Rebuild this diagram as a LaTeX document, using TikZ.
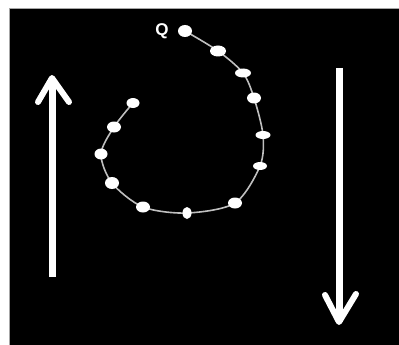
\documentclass[tikz,border=0pt]{standalone}
\usepackage{fontspec}
\setmainfont{Liberation Sans}
\usetikzlibrary{shapes.geometric}
\begin{document}
\begin{tikzpicture}[x=1pt,y=-1pt,
  bead/.style={ellipse,fill=white,draw=none,inner sep=0pt},
  string/.style={draw=black!25,line width=1.6pt},
  bigarrow/.style={draw=white,line width=7pt},
  arrowhead/.style={draw=white,line width=6pt,line join=round,line cap=round}]
\useasboundingbox (0,0) rectangle (399,345);
\fill[white] (0,0) rectangle (399,345);
\fill[black] (9,8) rectangle (399,345);
\draw[black!35,line width=0.8pt] (9,345) -- (9,8) -- (399,8);
% bead positions
\coordinate (p1) at (185,31);
\coordinate (p2) at (218,51);
\coordinate (p3) at (243,73);
\coordinate (p4) at (254,98);
\coordinate (p5) at (263,135);
\coordinate (p6) at (260,166);
\coordinate (p7) at (235,203);
\coordinate (p8) at (187,213);
\coordinate (p9) at (143,207);
\coordinate (p10) at (112,183);
\coordinate (p11) at (101,154);
\coordinate (p12) at (114,127);
\coordinate (p13) at (133,103);
\draw[string] plot[smooth,tension=0.5] coordinates {(p1) (p2) (p3) (p4) (p5) (p6) (p7) (p8) (p9) (p10) (p11) (p12) (p13)};
\node[bead,minimum width=14pt,minimum height=12pt] (b1) at (p1) {};
\node[bead,minimum width=16pt,minimum height=11pt] (b2) at (p2) {};
\node[bead,minimum width=16pt,minimum height=9pt] (b3) at (p3) {};
\node[bead,minimum width=14pt,minimum height=11pt] (b4) at (p4) {};
\node[bead,minimum width=15pt,minimum height=8pt] (b5) at (p5) {};
\node[bead,minimum width=14pt,minimum height=8pt] (b6) at (p6) {};
\node[bead,minimum width=14pt,minimum height=11pt] (b7) at (p7) {};
\node[bead,minimum width=9pt,minimum height=12pt] (b8) at (p8) {};
\node[bead,minimum width=14pt,minimum height=11pt] (b9) at (p9) {};
\node[bead,minimum width=14pt,minimum height=12pt] (b10) at (p10) {};
\node[bead,minimum width=13pt,minimum height=11pt] (b11) at (p11) {};
\node[bead,minimum width=14pt,minimum height=11pt] (b12) at (p12) {};
\node[bead,minimum width=13pt,minimum height=10pt] (b13) at (p13) {};
\node[text=white,font=\bfseries\fontsize{17}{17}\selectfont,inner sep=0pt] (q) at (162,31) {Q};
% left arrow (up)
\coordinate (lb) at (52,277);
\coordinate (lt) at (52,78);
\coordinate (lwl) at (38,102);
\coordinate (lwr) at (69,102);
\draw[bigarrow] (lb) -- (lt);
\draw[arrowhead] (lwl) -- (lt) -- (lwr);
% right arrow (down)
\coordinate (rt) at (339,68);
\coordinate (rb) at (339,322);
\coordinate (rwl) at (325,295);
\coordinate (rwr) at (356,294);
\draw[bigarrow] (rt) -- (rb);
\draw[arrowhead] (rwl) -- (rb) -- (rwr);
\end{tikzpicture}
\end{document}
